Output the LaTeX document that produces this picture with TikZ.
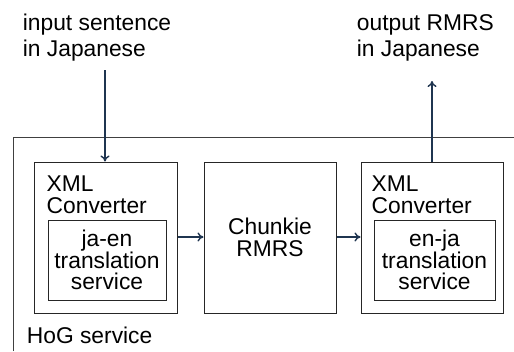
\documentclass[tikz,border=0pt]{standalone}
\usepackage{fontspec}
\setmainfont{Liberation Sans}
\usetikzlibrary{arrows.meta}
\definecolor{navy}{HTML}{1F3550}
\definecolor{frame}{HTML}{404040}
\begin{document}
\begin{tikzpicture}[x=1pt,y=-1pt,
  box/.style={draw=black!85,line width=1pt,rectangle,inner sep=0pt},
  txt/.style={inner sep=0pt,font=\fontsize{22.8}{21.5}\selectfont,align=center},
  toptxt/.style={inner sep=0pt,font=\fontsize{22.8}{26}\selectfont,align=left,anchor=base west},
  flow/.style={draw=navy,line width=1.4pt,-{To[length=6pt,width=9pt]}}]
\useasboundingbox (0,0) rectangle (514,351);
\draw[frame,line width=1pt] (13,351) -- (13,137) -- (514,137);
\node[toptxt] (in) at (22.7,56) {input sentence\\in Japanese};
\node[toptxt] (out) at (356.7,56) {output RMRS\\in Japanese};
\node[box,minimum width=143,minimum height=151] (b1) at (105.5,237.5) {};
\node[box,minimum width=132,minimum height=151,txt] (b2) at (270,237.5) {Chunkie\\RMRS};
\node[box,minimum width=142,minimum height=151] (b3) at (432,237.5) {};
\node[box,minimum width=118,minimum height=80,txt] (i1) at (107,260) {ja-en\\translation\\service};
\node[box,minimum width=121,minimum height=80,txt] (i3) at (434.5,260) {en-ja\\translation\\service};
\node[txt,align=left,anchor=base west] (l1) at (46.5,213) {XML\\Converter};
\node[txt,align=left,anchor=base west] (l3) at (371.5,213) {XML\\Converter};
\node[toptxt] (hog) at (26.7,343) {HoG service};
\coordinate (inTop) at (105,70);
\coordinate (outTop) at (432,81);
\draw[flow] (inTop) -- (inTop |- b1.north);
\draw[flow] (b3.north) -- (outTop);
\draw[flow] (b1.east |- 0,237) -- (b2.west |- 0,237);
\draw[flow] (b2.east |- 0,237) -- (b3.west |- 0,237);
\end{tikzpicture}
\end{document}
